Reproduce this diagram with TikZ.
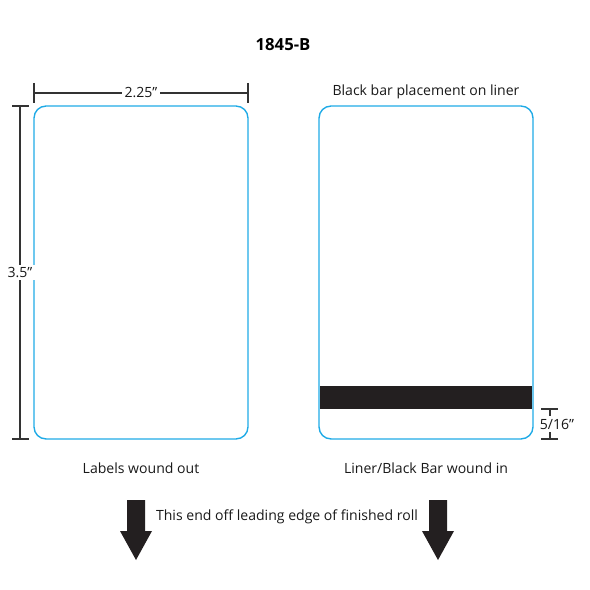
\documentclass[tikz,border=0pt]{standalone}
\usepackage{fontspec}
\setmainfont{Open Sans}
\usetikzlibrary{positioning}
\definecolor{labelblue}{RGB}{30,170,230}
\definecolor{barblack}{RGB}{35,31,32}

\begin{document}
\begin{tikzpicture}[x=0.02cm, y=-0.02cm,
        card/.style={rectangle, draw=labelblue, line width=0.8pt, minimum width=4.28cm, minimum height=6.66cm, rounded corners=0.24cm},
        bar/.style={rectangle, fill=barblack, inner sep=0pt, minimum width=4.24cm, minimum height=0.46cm},
        dim/.style={draw=black!80, line width=0.6pt},
        lbl/.style={font=\fontsize{8}{10}\selectfont, text=black!90, inner sep=1pt},
        dimlbl/.style={lbl, fill=white, inner sep=1.5pt},
        feed/.style={fill=barblack}
    ]
        \useasboundingbox (0,0) rectangle (590,590);

        % Title
        \node[font=\fontsize{9.5}{11}\selectfont\bfseries] (title) at (283,45) {1845-B};

        % Label cards
        \node[card] (front) at (141,272.5) {};
        \node[card] (liner) at (426,272.5) {};
        \node[bar] (blackbar) at (426,397.5) {};

        % Captions
        \node[lbl] (placement) at (426,92) {Black bar placement on liner};
        \node[lbl] (woundout) at (141,468) {Labels wound out};
        \node[lbl] (woundin) at (426,468) {Liner/Black Bar wound in};

        % Width 2.25
        \coordinate (wl) at (34,93);
        \coordinate (wr) at (248,93);
        \draw[dim] (wl) -- node[dimlbl] {2.25”} (wr);
        \draw[dim] (wl) ++(0,-10) -- ++(0,20);
        \draw[dim] (wr) ++(0,-10) -- ++(0,20);

        % Height 3.5
        \coordinate (ht) at (20,106);
        \coordinate (hb) at (20,439);
        \draw[dim] (ht) -- node[dimlbl] {3.5”} (hb);
        \draw[dim] (ht) ++(-8,0) -- ++(17,0);
        \draw[dim] (hb) ++(-8,0) -- ++(17,0);

        % Bar offset 5/16
        \coordinate (bt) at (550,409);
        \coordinate (bb) at (550,439);
        \draw[dim] (bt) -- (bb);
        \draw[dim] (bt) ++(-9,0) -- ++(17,0);
        \draw[dim] (bb) ++(-9,0) -- ++(17,0);
        \node[dimlbl] (offset) at (557,424) {5/16”};

        % Feed direction
        \node[lbl] (leading) at (287,517) {This end off leading edge of finished roll};
        \foreach \name/\x in {leftfeed/136, rightfeed/438} {
            \coordinate (\name) at (\x,500);
            \fill[feed] (\name) ++(-9,0) -- ++(18,0) -- ++(0,31) -- ++(7,0)
                -- ++(-16,29) -- ++(-16,-29) -- ++(7,0) -- cycle;
        }

    \end{tikzpicture}
\end{document}
